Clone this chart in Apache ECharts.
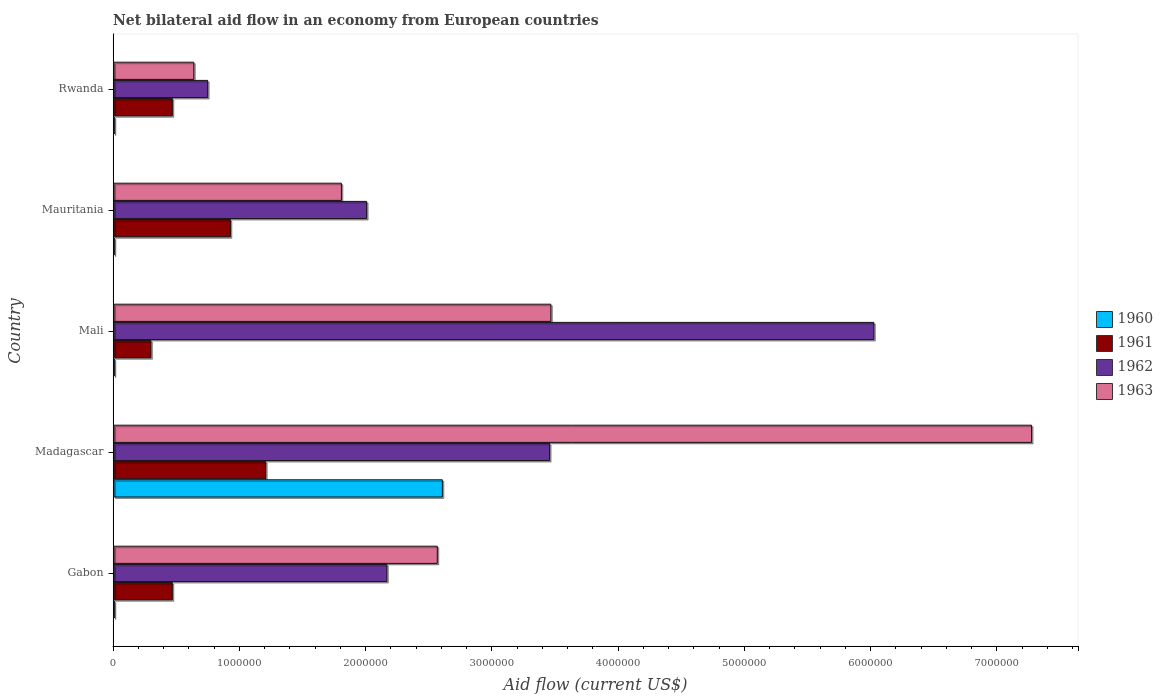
<!DOCTYPE html>
<html>
<head>
<meta charset="utf-8">
<script src="https://cdn.jsdelivr.net/npm/echarts@6/dist/echarts.min.js"></script>
<style>
  html, body { margin: 0; padding: 0; background: #fff; }
  #chart { width: 1162px; height: 700px; }
</style>
</head>
<body>
<div id="chart"></div>
<script>
var countries = ['Gabon', 'Madagascar', 'Mali', 'Mauritania', 'Rwanda'];
var aid1960 = [10000, 2610000, 10000, 10000, 10000];
var aid1961 = [470000, 1210000, 300000, 930000, 470000];
var aid1962 = [2170000, 3460000, 6030000, 2010000, 750000];
var aid1963 = [2570000, 7280000, 3470000, 1810000, 640000];
var years = ['1960', '1961', '1962', '1963'];
var colors = ['#00bfff', '#8b0000', '#663399', '#db7093'];

var font = 'DejaVu Serif';
var xMax = 7644000;

(function () {
    var myChart = echarts.init(document.getElementById('chart'));
    var values = [aid1960, aid1961, aid1962, aid1963];
    // empty slot first (top of each group) so the tick sits on the 1962 bar
    var series = [{
        name: 'pad',
        type: 'bar',
        xAxisIndex: 1,
        yAxisIndex: 1,
        barWidth: 18.2,
        barGap: '0%',
        data: [null, null, null, null, null],
        silent: true
    }];
    // horizontal bars: earlier series are drawn higher, so 1963 goes first
    for (var i = years.length - 1; i >= 0; i--) {
        series.push({
            name: years[i],
            type: 'bar',
            xAxisIndex: 1,
            yAxisIndex: 1,
            barWidth: 18.2,
            barGap: '0%',
            data: values[i],
            itemStyle: {
                color: colors[i],
                borderColor: '#111',
                borderWidth: 1,
                shadowColor: 'rgba(0,0,0,0.35)',
                shadowOffsetX: 1.5,
                shadowOffsetY: 1.5,
                shadowBlur: 0
            }
        });
    }

    var option = {
        animation: false,
        color: colors,
        textStyle: { fontFamily: font },
        title: {
            text: 'Net bilateral aid flow in an economy from European countries',
            left: 108,
            top: 9,
            textStyle: { fontFamily: font, fontSize: 14, fontWeight: 'bold', color: '#444' }
        },
        legend: {
            data: years,
            orient: 'vertical',
            left: 1091,
            top: 306,
            itemWidth: 16,
            itemHeight: 16,
            itemGap: 7,
            icon: 'rect',
            itemStyle: { borderColor: '#333', borderWidth: 1, shadowBlur: 0, shadowOffsetX: 0, shadowOffsetY: 0 },
            textStyle: { fontFamily: font, fontSize: 14, color: '#444' }
        },
        grid: [
            { left: 113, right: 84, top: 34, bottom: 54, show: true, borderColor: '#eeeeee', borderWidth: 1, backgroundColor: '#fff' },
            { left: 113, right: 84, top: 28.5, bottom: 66.5 }
        ],
        xAxis: [
            {
                type: 'value',
                gridIndex: 0,
                min: 0,
                max: xMax,
                interval: 1000000,
                name: 'Aid flow (current US$)',
                nameLocation: 'middle',
                nameGap: 32,
                nameTextStyle: { fontFamily: font, fontSize: 16, fontStyle: 'italic', color: '#444' },
                axisLine: { show: true, lineStyle: { color: '#000', width: 1 } },
                axisTick: { show: true, length: 5, lineStyle: { color: '#000' } },
                minorTick: { show: true, splitNumber: 5, length: 3, lineStyle: { color: '#000' } },
                axisLabel: {
                    fontFamily: font, fontSize: 10, color: '#555', margin: 12,
                    showMaxLabel: false,
                    formatter: function (v) { return String(v); }
                },
                splitLine: { show: false }
            },
            {
                type: 'value',
                gridIndex: 1,
                min: 0,
                max: xMax,
                show: false
            }
        ],
        yAxis: [
            {
                type: 'value',
                gridIndex: 0,
                min: 0,
                max: 1,
                axisLine: { show: true, lineStyle: { color: '#000', width: 1 } },
                axisTick: { show: false },
                axisLabel: { show: false },
                splitLine: { show: false }
            },
            {
                type: 'category',
                gridIndex: 1,
                data: countries,
                name: 'Country',
                nameLocation: 'middle',
                nameGap: 88,
                nameRotate: 90,
                nameTextStyle: { fontFamily: font, fontSize: 16, fontStyle: 'italic', color: '#444' },
                axisLine: { show: false },
                axisTick: { show: true, alignWithLabel: true, length: 5, lineStyle: { color: '#000' } },
                axisLabel: { fontFamily: font, fontSize: 11, color: '#555', margin: 10 },
                splitLine: { show: false }
            }
        ],
        series: series
    };
    myChart.setOption(option);
})();
</script>
</body>
</html>
